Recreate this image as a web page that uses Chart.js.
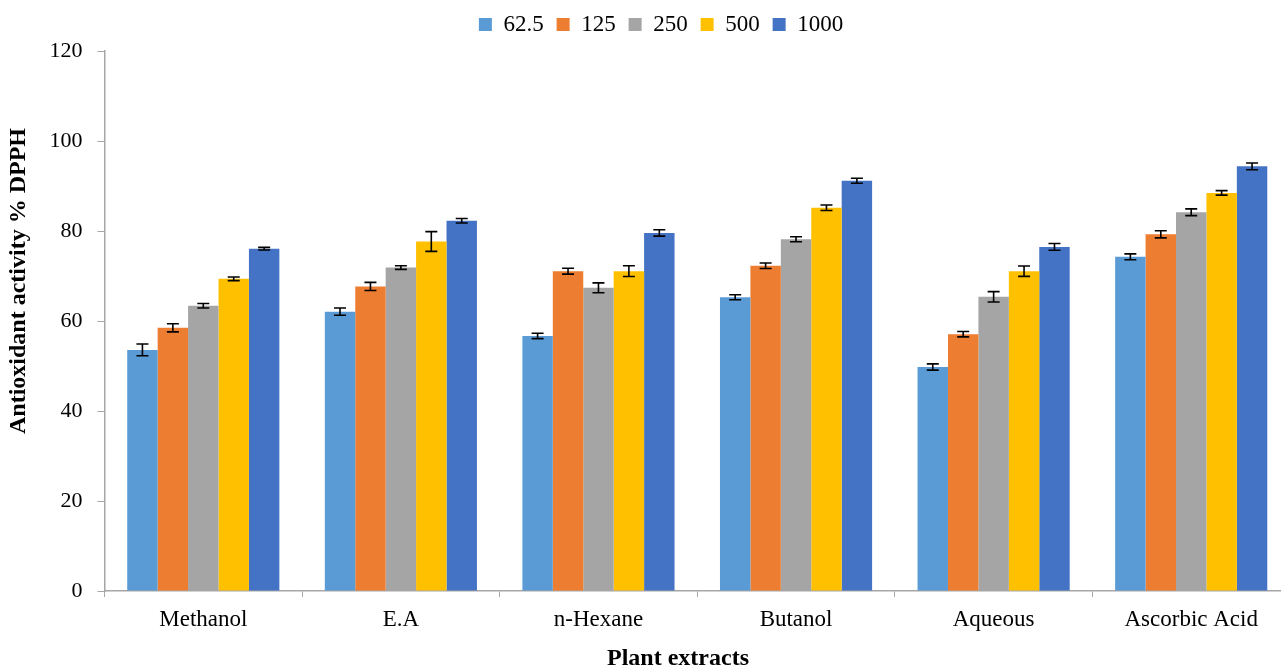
<!DOCTYPE html>
<html>
<head>
<meta charset="utf-8">
<script src="https://cdn.jsdelivr.net/npm/chart.js@4"></script>
<style>
  html, body { margin: 0; padding: 0; background: #fff; overflow: hidden; }
  /* plot area runs a little past the right edge, like the original */
  #wrap { width: 1290px; height: 671px; position: relative; }
</style>
</head>
<body>
<div id="wrap"><canvas id="chart"></canvas></div>
<script>
// data
const extracts = ['Methanol', 'E.A', 'n-Hexane', 'Butanol', 'Aqueous', 'Ascorbic Acid'];
const concLabels = ['62.5', '125', '250', '500', '1000'];
const colors = ['#5B9BD5', '#ED7D31', '#A5A5A5', '#FFC000', '#4472C4'];

const vals625 = [53.6, 62.1, 56.7, 65.3, 49.8, 74.3];
const vals125 = [58.5, 67.7, 71.1, 72.3, 57.1, 79.3];
const vals250 = [63.4, 71.9, 67.4, 78.2, 65.4, 84.2];
const vals500 = [69.4, 77.7, 71.1, 85.2, 71.1, 88.5];
const vals1000 = [76.1, 82.3, 79.6, 91.2, 76.5, 94.4];

const err625 = [1.3, 0.8, 0.6, 0.55, 0.7, 0.65];
const err125 = [0.9, 0.9, 0.65, 0.6, 0.6, 0.8];
const err250 = [0.5, 0.4, 1.1, 0.55, 1.15, 0.75];
const err500 = [0.4, 2.2, 1.2, 0.6, 1.15, 0.5];
const err1000 = [0.3, 0.5, 0.7, 0.55, 0.75, 0.75];

const allVals = [vals625, vals125, vals250, vals500, vals1000];
const allErr = [err625, err125, err250, err500, err1000];

const FONT = "'Liberation Serif', 'Times New Roman', serif";

// +/- error bars on top of each bar
const errorBars = {
  id: 'errorBars',
  afterDatasetsDraw(chart) {
    const ctx = chart.ctx;
    const y = chart.scales.y;
    ctx.save();
    ctx.strokeStyle = '#000';
    ctx.lineWidth = 1.6;
    chart.data.datasets.forEach((ds, i) => {
      const meta = chart.getDatasetMeta(i);
      meta.data.forEach((bar, j) => {
        const v = ds.data[j];
        const e = ds.errors[j];
        const top = y.getPixelForValue(v + e);
        const bot = y.getPixelForValue(v - e);
        const cap = 6;
        ctx.beginPath();
        ctx.moveTo(bar.x, top); ctx.lineTo(bar.x, bot);
        ctx.moveTo(bar.x - cap, top); ctx.lineTo(bar.x + cap, top);
        ctx.moveTo(bar.x - cap, bot); ctx.lineTo(bar.x + cap, bot);
        ctx.stroke();
      });
    });
    ctx.restore();
  }
};

// axis titles sit a bit off-centre in the original, so draw them here
const axisTitles = {
  id: 'axisTitles',
  afterDraw(chart) {
    const ctx = chart.ctx;
    ctx.save();
    ctx.fillStyle = '#000';
    ctx.font = 'bold 24px ' + FONT;
    ctx.textAlign = 'center';
    ctx.textBaseline = 'middle';
    ctx.fillText('Plant extracts', 678, 659);
    ctx.translate(19, 281);
    ctx.rotate(-Math.PI / 2);
    ctx.fillText('Antioxidant activity % DPPH', 0, 0);
    ctx.restore();
  }
};

// nudge the legend to the right a little
const legendShift = {
  id: 'legendShift',
  afterLayout(chart) {
    chart.legend.left += 16;
    chart.legend.right += 16;
  }
};

new Chart(document.getElementById('chart'), {
  type: 'bar',
  data: {
    labels: extracts,
    datasets: concLabels.map((c, i) => ({
      label: c,
      data: allVals[i],
      errors: allErr[i],
      backgroundColor: colors[i],
      borderWidth: 0,
      barPercentage: 1.0,
      categoryPercentage: 0.77
    }))
  },
  options: {
    responsive: true,
    maintainAspectRatio: false,
    animation: false,
    layout: { padding: { top: 0, right: 0, bottom: 0, left: 0 } },
    plugins: {
      legend: {
        position: 'top',
        labels: {
          boxWidth: 13,
          boxHeight: 13,
          padding: 13,
          color: '#000',
          font: { family: FONT, size: 23 }
        }
      },
      // empty title used as a spacer between legend and plot
      title: {
        display: true,
        text: '',
        weight: 500,
        font: { size: 1 },
        padding: { top: 4, bottom: 0 }
      },
      tooltip: { enabled: false }
    },
    scales: {
      x: {
        grid: {
          display: true,
          drawOnChartArea: false,
          drawTicks: true,
          tickLength: 6,
          color: '#a6a6a6',
          offset: true
        },
        border: { color: '#a6a6a6', width: 1.5 },
        ticks: { color: '#000', font: { family: FONT, size: 23 }, padding: 9 },
        afterFit(scale) { scale.height = 80; }
      },
      y: {
        min: 0,
        max: 120,
        ticks: {
          stepSize: 20,
          color: '#000',
          font: { family: FONT, size: 22 },
          padding: 15
        },
        grid: {
          display: true,
          drawOnChartArea: false,
          drawTicks: true,
          tickLength: 7,
          color: '#a6a6a6'
        },
        border: { color: '#a6a6a6', width: 1.5 },
        afterFit(scale) { scale.width = 104.5; }
      }
    }
  },
  plugins: [errorBars, axisTitles, legendShift]
});
</script>
</body>
</html>
